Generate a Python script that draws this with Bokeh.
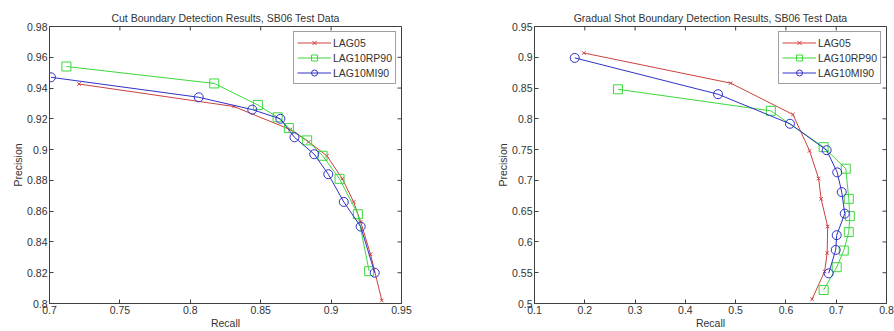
import math
from bokeh.plotting import figure
from bokeh.layouts import row
from bokeh.models import FixedTicker, Range1d
from bokeh.embed import file_html
from bokeh.resources import INLINE

# ---------------- data ----------------
series_names = ["LAG05", "LAG10RP90", "LAG10MI90"]

cut_lag05_recall = [0.721, 0.831, 0.871, 0.884, 0.897, 0.908, 0.916, 0.921, 0.928, 0.936]
cut_lag05_prec = [0.9426, 0.928, 0.913, 0.905, 0.896, 0.881, 0.866, 0.853, 0.832, 0.802]
cut_rp90_recall = [0.712, 0.817, 0.848, 0.862, 0.870, 0.883, 0.894, 0.906, 0.919, 0.927]
cut_rp90_prec = [0.954, 0.943, 0.929, 0.921, 0.914, 0.906, 0.896, 0.881, 0.858, 0.821]
cut_mi90_recall = [0.701, 0.806, 0.844, 0.864, 0.874, 0.888, 0.898, 0.909, 0.921, 0.931]
cut_mi90_prec = [0.947, 0.934, 0.926, 0.920, 0.908, 0.897, 0.884, 0.866, 0.850, 0.820]

grad_lag05_recall = [0.198, 0.490, 0.614, 0.647, 0.665, 0.670, 0.683, 0.682, 0.677, 0.652]
grad_lag05_prec = [0.907, 0.858, 0.807, 0.748, 0.703, 0.670, 0.625, 0.582, 0.552, 0.507]
grad_rp90_recall = [0.266, 0.570, 0.675, 0.719, 0.725, 0.727, 0.725, 0.715, 0.701, 0.675]
grad_rp90_prec = [0.848, 0.813, 0.754, 0.719, 0.670, 0.642, 0.616, 0.586, 0.559, 0.522]
grad_mi90_recall = [0.180, 0.465, 0.608, 0.681, 0.702, 0.711, 0.717, 0.701, 0.699, 0.685]
grad_mi90_prec = [0.899, 0.840, 0.792, 0.749, 0.713, 0.681, 0.646, 0.611, 0.587, 0.549]

cut_xticks = [0.7, 0.75, 0.8, 0.85, 0.9, 0.95]
cut_xlabels = ["0.7", "0.75", "0.8", "0.85", "0.9", "0.95"]
cut_yticks = [0.8, 0.82, 0.84, 0.86, 0.88, 0.9, 0.92, 0.94, 0.96, 0.98]
cut_ylabels = ["0.8", "0.82", "0.84", "0.86", "0.88", "0.9", "0.92", "0.94", "0.96", "0.98"]
grad_xticks = [0.1, 0.2, 0.3, 0.4, 0.5, 0.6, 0.7, 0.8]
grad_xlabels = ["0.1", "0.2", "0.3", "0.4", "0.5", "0.6", "0.7", "0.8"]
grad_yticks = [0.5, 0.55, 0.6, 0.65, 0.7, 0.75, 0.8, 0.85, 0.9, 0.95]
grad_ylabels = ["0.5", "0.55", "0.6", "0.65", "0.7", "0.75", "0.8", "0.85", "0.9", "0.95"]

# ---------------- style ----------------
FONT = "Liberation Sans"
FS = "10.5px"
TXT = "#333333"
AX = "#404040"
colors = ["#cc4040", "#3cd83c", "#3030c8"]
markers = ["x", "square", "circle"]
msizes = [5, 9, 9]


def style_axis(ax, ticks, labels):
    ax.ticker = FixedTicker(ticks=ticks)
    ax.major_label_overrides = {t: l for t, l in zip(ticks, labels)}
    ax.minor_tick_line_color = None
    ax.major_tick_in = 4
    ax.major_tick_out = 0
    ax.axis_line_color = AX
    ax.major_tick_line_color = AX
    ax.major_label_text_font = FONT
    ax.major_label_text_color = TXT
    ax.major_label_text_font_size = FS
    ax.major_label_standoff = 2
    ax.axis_label_standoff = 0
    ax.axis_label_text_font = FONT
    ax.axis_label_text_font_size = FS
    ax.axis_label_text_font_style = "normal"
    ax.axis_label_text_color = TXT


def make_plot(title, xr, yr, xt, xl, yt, yl, data, border_left, border_right, width):
    p = figure(width=width, height=331, output_backend="svg", toolbar_location=None,
               x_range=Range1d(*xr), y_range=Range1d(*yr),
               min_border_left=border_left, min_border_right=border_right,
               min_border_top=26, min_border_bottom=27)
    p.title.text = title
    p.title.align = "center"
    p.title.text_font = FONT
    p.title.text_font_size = FS
    p.title.text_font_style = "normal"
    p.title.text_color = TXT
    p.title.standoff = 6
    p.xgrid.visible = False
    p.ygrid.visible = False
    p.outline_line_color = AX
    p.background_fill_color = "white"
    p.border_fill_color = "white"

    style_axis(p.xaxis[0], xt, xl)
    style_axis(p.yaxis[0], yt, yl)
    p.xaxis[0].axis_label = "Recall"
    p.yaxis[0].axis_label = "Precision"

    # inward tick marks on the top and right edges of the box
    p.ray(x=xt, y=[yr[1]] * len(xt), length=4, length_units="screen",
          angle=-math.pi / 2, line_color=AX, line_width=1)
    p.ray(x=[xr[1]] * len(yt), y=yt, length=4, length_units="screen",
          angle=math.pi, line_color=AX, line_width=1)

    for (xs, ys), name, c, m, s in zip(data, series_names, colors, markers, msizes):
        p.line(xs, ys, line_color=c, line_width=1, legend_label=name)
        p.scatter(xs, ys, marker=m, size=s, line_color=c, fill_color=None,
                  line_width=1, legend_label=name)

    lg = p.legend[0]
    lg.location = "top_right"
    lg.margin = 5
    lg.padding = 3
    lg.spacing = 0
    lg.glyph_width = 34
    lg.glyph_height = 15
    lg.label_height = 15
    lg.label_standoff = 2
    lg.label_text_font = FONT
    lg.label_text_font_size = FS
    lg.label_text_color = TXT
    lg.border_line_color = AX
    lg.border_line_width = 1
    lg.background_fill_color = "white"
    lg.background_fill_alpha = 1.0
    return p


p1 = make_plot("Cut Boundary Detection Results, SB06 Test Data",
               (0.7, 0.95), (0.8, 0.98),
               cut_xticks, cut_xlabels, cut_yticks, cut_ylabels,
               [(cut_lag05_recall, cut_lag05_prec),
                (cut_rp90_recall, cut_rp90_prec),
                (cut_mi90_recall, cut_mi90_prec)],
               border_left=49, border_right=46, width=447)

p2 = make_plot("Gradual Shot Boundary Detection Results, SB06 Test Data",
               (0.1, 0.8), (0.5, 0.95),
               grad_xticks, grad_xlabels, grad_yticks, grad_ylabels,
               [(grad_lag05_recall, grad_lag05_prec),
                (grad_rp90_recall, grad_rp90_prec),
                (grad_mi90_recall, grad_mi90_prec)],
               border_left=87, border_right=8, width=447)

layout = row(p1, p2)
open("out.html", "w").write(file_html(layout, INLINE))
